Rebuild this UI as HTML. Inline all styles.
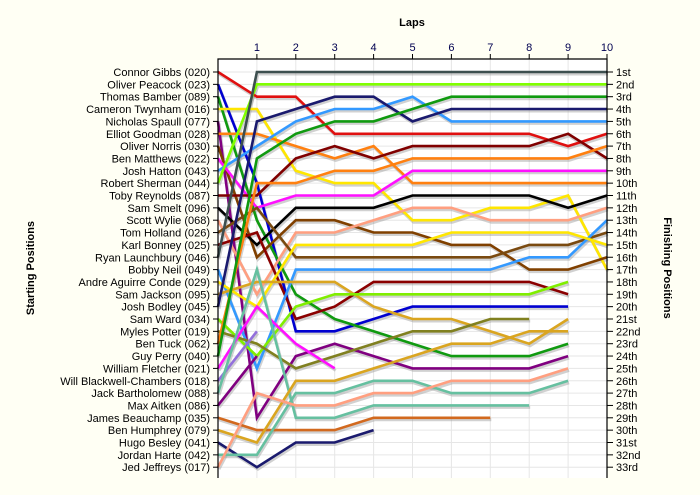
<!DOCTYPE html>
<html><head><meta charset="utf-8">
<style>
body{margin:0;background:#fffff4;}
svg{display:block;font-family:"Liberation Sans",sans-serif;}
</style></head>
<body>
<svg id="chart" width="700" height="495" viewBox="0 0 700 495" xmlns="http://www.w3.org/2000/svg">
<rect x="0" y="0" width="700" height="495" fill="#fffff4"/>
<rect x="218" y="59" width="389" height="419" fill="#ffffff"/>
<text x="412" y="26" font-size="11" font-weight="bold" text-anchor="middle">Laps</text>
<text transform="translate(34,268) rotate(-90)" font-size="11" font-weight="bold" text-anchor="middle">Starting Positions</text>
<text transform="translate(664,268) rotate(90)" font-size="11" font-weight="bold" text-anchor="middle">Finishing Positions</text>
<g id="grid"></g>
<g id="shadows"></g>
<g id="lines"></g>
<g id="axes"></g>
</svg>
<script>
const names = ["Connor Gibbs (020)","Oliver Peacock (023)","Thomas Bamber (089)","Cameron Twynham (016)","Nicholas Spaull (077)","Elliot Goodman (028)","Oliver Norris (030)","Ben Matthews (022)","Josh Hatton (043)","Robert Sherman (044)","Toby Reynolds (087)","Sam Smelt (096)","Scott Wylie (068)","Tom Holland (026)","Karl Bonney (025)","Ryan Launchbury (046)","Bobby Neil (049)","Andre Aguirre Conde (029)","Sam Jackson (095)","Josh Bodley (045)","Sam Ward (034)","Myles Potter (019)","Ben Tuck (062)","Guy Perry (040)","William Fletcher (021)","Will Blackwell-Chambers (018)","Jack Bartholomew (088)","Max Aitken (086)","James Beauchamp (035)","Ben Humphrey (079)","Hugo Besley (041)","Jordan Harte (042)","Jed Jeffreys (017)"];
const finishLabels = ["1st","2nd","3rd","4th","5th","6th","7th","8th","9th","10th","11th","12th","13th","14th","15th","16th","17th","18th","19th","20th","21st","22nd","23rd","24th","25th","26th","27th","28th","29th","30th","31st","32nd","33rd"];
const lapTicks = [1,2,3,4,5,6,7,8,9,10];
const colors = ["#e01010","#0000d0","#109a10","#ffe600","#800080","#ff8010","#804000","#ff10ff","#3399ff","#80ff00","#800000","#000000","#ff9f80","#7a4a10","#8b0000","#3d4f4f","#3399ff","#ffe600","#daa520","#1a1a6e","#80ee00","#808020","#ff8010","#109a10","#ff10ff","#9370db","#66c0a0","#800080","#d2691e","#daa520","#1a1a6e","#66c0a0","#ff9f80"];
const p1=[1,3,3,6,6,6,6,6,6,7,6];
const p2=[2,10,22,22,21,20,20,20,20,20];
const p3=[3,13,19,21,22,23,24,24,24,23];
const p4=[4,4,9,10,10,13,13,12,12,11,17];
const p5=[5,29,24,23,24,25,25,25,25,24];
const p6=[6,6,7,8,7,10,10,10,10,10,10];
const p7=[7,16,13,13,14,14,15,15,17,17,16];
const p8=[8,12,11,11,11,9,9,9,9,9,9];
const p9=[9,7,5,4,4,3,5,5,5,5,5];
const p10=[10,2,2,2,2,2,2,2,2,2,2];
const p11=[11,11,8,7,8,7,7,7,7,6,8];
const p12=[12,15,12,12,12,11,11,11,11,12,11];
const p13=[13,19,14,14,13,12,12,13,13,13,12];
const p14=[14,12,16,16,16,16,16,16,15,15,14];
const p15=[15,14,21,20,18,18,18,18,18,19];
const p16=[16,1,1,1,1,1,1,1,1,1,1];
const p17=[17,25,17,17,17,17,17,17,16,16,13];
const p18=[18,20,15,15,15,15,14,14,14,14,15];
const p19=[19,18,18,18,20,21,21,22,23,21];
const p20=[20,5,4,3,3,5,4,4,4,4,4];
const p21=[21,24,20,19,19,19,19,19,19,18];
const p22=[22,23,25,24,23,22,22,21,21];
const p23=[23,10,10,9,9,8,8,8,8,8,7];
const p24=[24,8,6,5,5,4,3,3,3,3,3];
const p25=[25,20,23,25];
const p26=[26,22];
const p27=[27,17,29,29,28,28,28,28,28];
const p28=[28,24];
const p29=[29,30,30,30,29,29,29,29];
const p30=[30,31,26,26,25,24,23,23,22,22];
const p31=[31,33,31,31,30];
const p32=[32,32,27,27,26,26,27,27,27,26];
const p33=[33,27,28,28,27,27,26,26,26,25];
const series=[p1,p2,p3,p4,p5,p6,p7,p8,p9,p10,p11,p12,p13,p14,p15,p16,p17,p18,p19,p20,p21,p22,p23,p24,p25,p26,p27,p28,p29,p30,p31,p32,p33];

const NS="http://www.w3.org/2000/svg";
const X0=218, X1=607, Y0=72, DY=12.35, TOP=59, BOT=478;
function xScale(l){return X0+(X1-X0)*l/10;}
function yScale(p){return Y0+(p-1)*DY;}
function mk(tag,attrs,parent){const e=document.createElementNS(NS,tag);for(const k in attrs)e.setAttribute(k,attrs[k]);parent.appendChild(e);return e;}
const grid=document.getElementById('grid'),axes=document.getElementById('axes'),shadows=document.getElementById('shadows'),lines=document.getElementById('lines');
for(let i=0;i<names.length;i++){
  const y=yScale(i+1);
  const g=mk('line',{x1:X0,x2:X1,y1:y,y2:y,stroke:'#e6e6e6','stroke-width':1},grid);
  
  
  const t=mk('line',{x1:X0-5,x2:X0,y1:y,y2:y,stroke:'#000'},axes);
  
  
  const t2=mk('line',{x1:X1,x2:X1+6,y1:y,y2:y,stroke:'#000'},axes);
  
  
  const n=mk('text',{x:X0-8,y:y+4,'font-size':11,'text-anchor':'end'},axes);
  n.textContent=names[i];
  
  
  const f=mk('text',{x:X1+9,y:y+4,'font-size':11},axes);
  f.textContent=finishLabels[i];
  
  
}
lapTicks.forEach(l=>{
  const x=xScale(l);
  const g=mk('line',{x1:x,x2:x,y1:TOP,y2:BOT,stroke:'#e6e6e6'},grid);
  
  
  const t=mk('line',{x1:x,x2:x,y1:TOP-5,y2:TOP,stroke:'#000'},axes);
  
  
  const tx=mk('text',{x:x,y:TOP-8,'font-size':11,'text-anchor':'middle',fill:'#000050'},axes);
  tx.textContent=l;
  
  
});
const ax=mk('path',{d:`M${X0},${BOT}V${TOP}H${X1}V${BOT}`,fill:'none',stroke:'#000','stroke-width':1.2},axes);


series.forEach((s,i)=>{
  const pts=s.map((p,l)=>xScale(l).toFixed(1)+','+yScale(p).toFixed(1)).join(' ');
  const sh=mk('polyline',{points:pts,fill:'none',stroke:'#999','stroke-width':3,'stroke-opacity':0.45,transform:'translate(1,2)','stroke-linejoin':'miter'},shadows);
  
  
  const pl=mk('polyline',{points:pts,fill:'none',stroke:colors[i],'stroke-width':2.6,'stroke-linejoin':'miter'},lines);
  
  
});
</script>
</body></html>
